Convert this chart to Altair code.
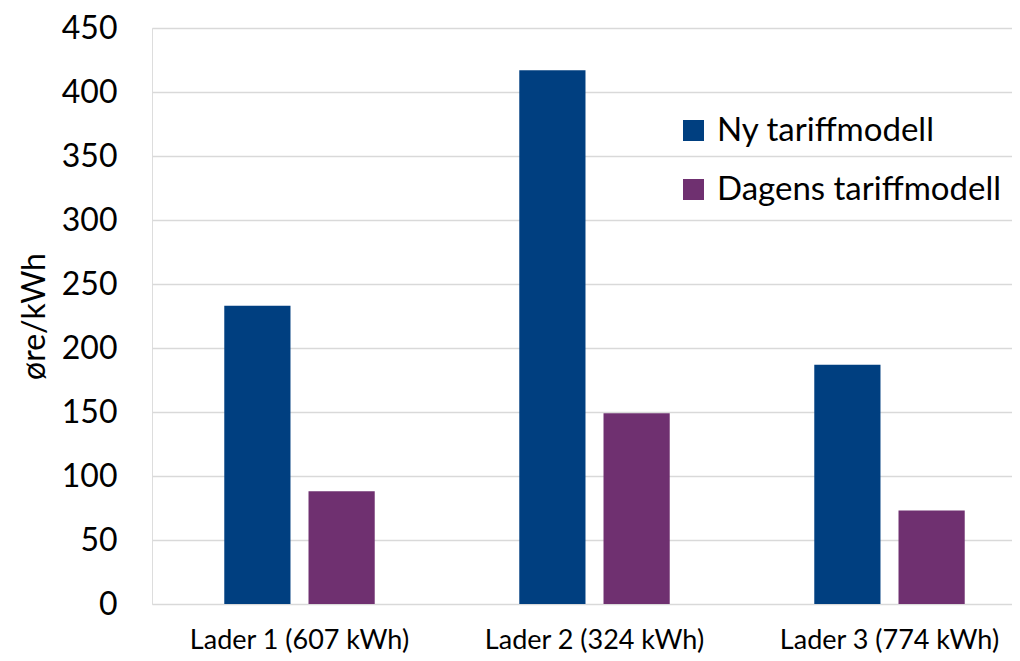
import altair as alt
import pandas as pd

categories = ["Lader 1 (607 kWh)", "Lader 2 (324 kWh)", "Lader 3 (774 kWh)"]
series = ["Ny tariffmodell", "Dagens tariffmodell"]
ny_values = [233, 417, 187]
dagens_values = [88, 149, 73]
colors = ["#003F80", "#6F3070"]
y_ticks = [0, 50, 100, 150, 200, 250, 300, 350, 400, 450]

rows = []
for c, a, b in zip(categories, ny_values, dagens_values):
    rows.append({"Lader": c, "Serie": series[0], "Verdi": a})
    rows.append({"Lader": c, "Serie": series[1], "Verdi": b})
df = pd.DataFrame(rows)

FONT = "Lato"

chart = (
    alt.Chart(df)
    .mark_bar()
    .encode(
        x=alt.X(
            "Lader:N",
            sort=categories,
            title=None,
            scale=alt.Scale(range=[0, 885], paddingInner=0.49, paddingOuter=0.245),
            axis=alt.Axis(
                labelAngle=0,
                labelFont=FONT,
                labelFontSize=27,
                labelColor="#000000",
                labelPadding=23,
                labelLimit=400,
                ticks=False,
                domain=False,
                grid=False,
            ),
        ),
        xOffset=alt.XOffset(
            "Serie:N",
            sort=series,
            scale=alt.Scale(paddingInner=0.214, paddingOuter=0),
        ),
        y=alt.Y(
            "Verdi:Q",
            title="øre/kWh",
            scale=alt.Scale(domain=[0, 450], nice=False),
            axis=alt.Axis(
                values=y_ticks,
                labelFont=FONT,
                labelFontSize=32,
                labelColor="#000000",
                labelPadding=35,
                ticks=False,
                domain=False,
                gridColor="#D9D9D9",
                gridWidth=1.3,
                titleFont=FONT,
                titleFontSize=32,
                titleFontWeight="normal",
                titleColor="#000000",
                titlePadding=10,
            ),
        ),
        color=alt.Color(
            "Serie:N",
            sort=series,
            scale=alt.Scale(domain=series, range=colors),
            legend=alt.Legend(
                title=None,
                orient="none",
                legendX=525,
                legendY=86,
                symbolType="square",
                symbolSize=441,
                symbolStrokeWidth=0,
                labelFont=FONT,
                labelFontSize=33,
                labelColor="#000000",
                labelOffset=7,
                rowPadding=25,
                labelLimit=400,
            ),
        ),
    )
    .properties(
        width=860,
        height=576,
        autosize=alt.AutoSizeParams(type="none"),
        padding={"left": 144, "top": 20, "right": 0, "bottom": 56},
    )
    .configure_view(stroke=None)
    .configure(background="#FFFFFF")
)

chart.save("out.html", embed_options={"renderer": "svg", "actions": False})
